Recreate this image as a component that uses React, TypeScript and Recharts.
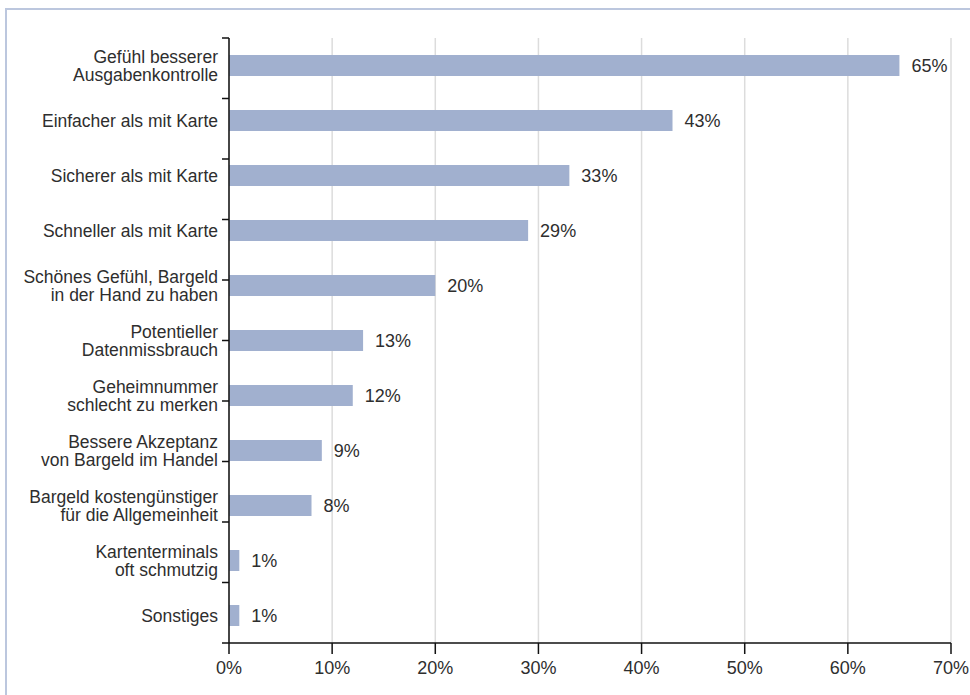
import React from "react";
import { BarChart, Bar, XAxis, YAxis, CartesianGrid, LabelList } from "recharts";

const categories = [
  "Gefühl besserer\nAusgabenkontrolle",
  "Einfacher als mit Karte",
  "Sicherer als mit Karte",
  "Schneller als mit Karte",
  "Schönes Gefühl, Bargeld\nin der Hand zu haben",
  "Potentieller\nDatenmissbrauch",
  "Geheimnummer\nschlecht zu merken",
  "Bessere Akzeptanz\nvon Bargeld im Handel",
  "Bargeld kostengünstiger\nfür die Allgemeinheit",
  "Kartenterminals\noft schmutzig",
  "Sonstiges",
];
const values = [65, 43, 33, 29, 20, 13, 12, 9, 8, 1, 1];
const xTicks = [0, 10, 20, 30, 40, 50, 60, 70];
const boundaryTicks = [0, 1, 2, 3, 4, 5, 6, 7, 8, 9, 10, 11];

const data = categories.map((c, i) => ({ name: c, value: values[i] }));

const FONT = "'Liberation Sans', Arial, Helvetica, sans-serif";
const TEXT = "#2e2e2e";

const CatTick = (props: any) => {
  const { x, y, payload } = props;
  const lines = String(payload.value).split("\n");
  const lh = 18.5;
  const start = -((lines.length - 1) * lh) / 2;
  return (
    <text x={x} y={y} textAnchor="end" fontFamily={FONT} fontSize={17.5} fill={TEXT}>
      {lines.map((l, i) => (
        <tspan key={i} x={x} dy={i === 0 ? start + 6.5 : lh}>
          {l}
        </tspan>
      ))}
    </text>
  );
};

export default function App() {
  return (
    <div style={{ position: "absolute", left: 0, top: 0, width: 970, height: 695, background: "#fff" }}>
      <div style={{ position: "absolute", left: 5, top: 8, width: 965, height: 2, background: "#bcc7de" }} />
      <div style={{ position: "absolute", left: 5, top: 8, width: 2, height: 687, background: "#bcc7de" }} />
      <div style={{ position: "absolute", left: 0, top: 0 }}>
        <BarChart
          width={970}
          height={695}
          data={data}
          layout="vertical"
          margin={{ top: 38, right: 19, bottom: 0, left: 0 }}
          barCategoryGap={17}
        >
          <CartesianGrid horizontal={false} vertical={true} stroke="#dcdcdc" strokeWidth={1.5} />
          <XAxis
            type="number"
            domain={[0, 70]}
            ticks={xTicks}
            interval={0}
            tickFormatter={(v: number) => `${v}%`}
            stroke="#111"
            strokeWidth={1.5}
            tickSize={11}
            tickMargin={7}
            height={52}
            tick={{ fontFamily: FONT, fontSize: 18, fill: TEXT }}
          />
          <YAxis
            type="category"
            dataKey="name"
            width={229}
            tick={<CatTick />}
            tickLine={false}
            axisLine={false}
            tickSize={6}
            tickMargin={5}
            interval={0}
          />
          <YAxis
            yAxisId="bounds"
            type="number"
            domain={[0, 11]}
            ticks={boundaryTicks}
            interval={0}
            width={1}
            mirror
            tick={() => <g />}
            tickSize={-7}
            stroke="#111"
            strokeWidth={1.5}
            axisLine={true}
            reversed
          />
          <Bar dataKey="value" fill="#a1b0cf" isAnimationActive={false}>
            <LabelList
              dataKey="value"
              position="right"
              offset={12}
              formatter={(v: any) => `${v}%`}
              style={{ fontFamily: FONT, fontSize: 18, fill: TEXT }}
            />
          </Bar>
        </BarChart>
      </div>
    </div>
  );
}
